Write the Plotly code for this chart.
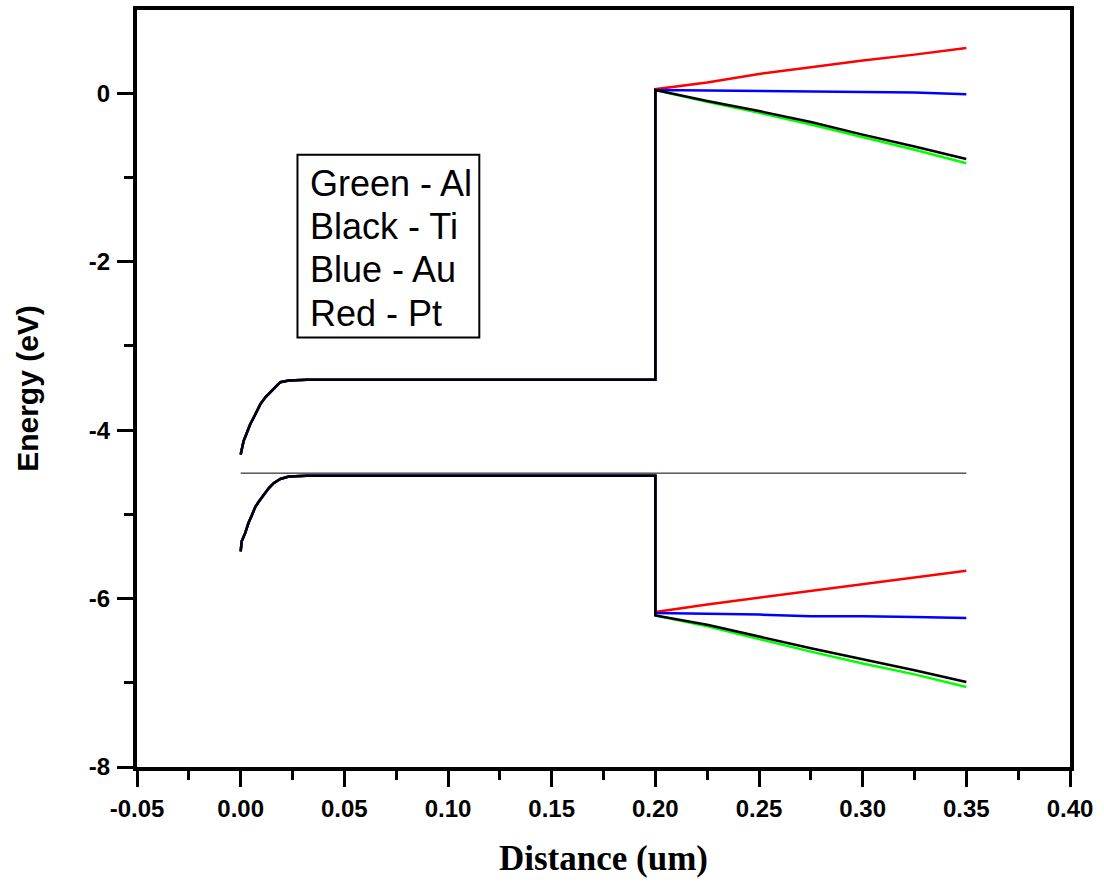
import plotly.graph_objects as go

# ---------------- data ----------------
# Si region (identical for all metals)
si_x = [0.0, 0.0014, 0.003, 0.0046, 0.0063, 0.0079, 0.0095, 0.0119, 0.0143, 0.0168, 0.0191, 0.0232, 0.032, 0.20]
si_cb = [-4.29, -4.13, -4.03, -3.93, -3.85, -3.77, -3.69, -3.61, -3.55, -3.48, -3.43, -3.41, -3.40, -3.40]
si_vb_x = [0.0, 0.0005, 0.0022, 0.0038, 0.0054, 0.0071, 0.0087, 0.0111, 0.0135, 0.0159, 0.0191, 0.0232, 0.032, 0.20]
si_vb = [-5.44, -5.32, -5.22, -5.10, -5.01, -4.91, -4.85, -4.77, -4.69, -4.63, -4.58, -4.55, -4.54, -4.54]

# second layer region (x from 0.20 to 0.35)
layer_x = [0.20, 0.225, 0.25, 0.275, 0.30, 0.325, 0.35]
cb_al = [0.04, -0.10, -0.23, -0.37, -0.52, -0.67, -0.83]
cb_ti = [0.04, -0.09, -0.21, -0.34, -0.49, -0.63, -0.78]
cb_au = [0.04, 0.035, 0.03, 0.025, 0.02, 0.01, -0.01]
cb_pt = [0.05, 0.13, 0.23, 0.31, 0.39, 0.46, 0.54]

vb_al = [-6.20, -6.33, -6.48, -6.63, -6.77, -6.90, -7.05]
vb_ti = [-6.20, -6.31, -6.45, -6.59, -6.72, -6.85, -6.99]
vb_au = [-6.17, -6.18, -6.19, -6.21, -6.21, -6.22, -6.23]
vb_pt = [-6.16, -6.07, -5.99, -5.91, -5.83, -5.75, -5.67]

# Fermi level line
ef_x = [0.0, 0.35]
ef_y = [-4.51, -4.51]

metals = ["Al", "Pt", "Au", "Ti"]
colors = {"Al": "#00FF00", "Pt": "#FF0000", "Au": "#0000FF", "Ti": "#000000"}
cb = {"Al": cb_al, "Ti": cb_ti, "Au": cb_au, "Pt": cb_pt}
vb = {"Al": vb_al, "Ti": vb_ti, "Au": vb_au, "Pt": vb_pt}

x_tickvals = [-0.05, 0.0, 0.05, 0.10, 0.15, 0.20, 0.25, 0.30, 0.35, 0.40]
x_ticktext = ["-0.05", "0.00", "0.05", "0.10", "0.15", "0.20", "0.25", "0.30", "0.35", "0.40"]
y_tickvals = [-8, -6, -4, -2, 0]
y_ticktext = ["-8", "-6", "-4", "-2", "0"]

legend_lines = ["Green - Al", "Black - Ti", "Blue - Au", "Red - Pt"]

# ---------------- figure ----------------
fig = go.Figure()

fig.add_trace(go.Scatter(x=ef_x, y=ef_y, mode="lines",
                         line=dict(color="black", width=1), showlegend=False))

for m in metals:
    fig.add_trace(go.Scatter(x=si_x + layer_x, y=si_cb + cb[m], mode="lines",
                             line=dict(color=colors[m], width=2.5), showlegend=False, name=m + " CB"))
    fig.add_trace(go.Scatter(x=si_vb_x + layer_x, y=si_vb + vb[m], mode="lines",
                             line=dict(color=colors[m], width=2.5), showlegend=False, name=m + " VB"))

axis_font = dict(family="Liberation Sans, Arial, sans-serif", size=24, color="black", weight="bold")

fig.update_xaxes(
    range=[-0.05, 0.40], tickmode="array", tickvals=x_tickvals, ticktext=x_ticktext,
    showline=True, linewidth=4, linecolor="black", mirror=True,
    ticks="outside", ticklen=16, tickwidth=3, tickcolor="black",
    ticklabelstandoff=1, tickfont=axis_font,
    minor=dict(tickmode="linear", tick0=-0.05, dtick=0.025, ticks="outside",
               ticklen=9, tickwidth=3, tickcolor="black", showgrid=False),
    showgrid=False, zeroline=False,
    title=dict(text="<b>Distance (um)</b>", standoff=26,
               font=dict(family="Liberation Serif, Times New Roman, serif", size=35, color="black")),
)
fig.update_yaxes(
    range=[-8, 0.99], tickmode="array", tickvals=y_tickvals, ticktext=y_ticktext,
    showline=True, linewidth=4, linecolor="black", mirror=True,
    ticks="outside", ticklen=16, tickwidth=3, tickcolor="black",
    ticklabelstandoff=2, tickfont=axis_font,
    minor=dict(tickmode="linear", tick0=-8, dtick=1, ticks="outside",
               ticklen=9, tickwidth=3, tickcolor="black", showgrid=False),
    showgrid=False, zeroline=False,
    title=dict(text="<b>Energy (eV)</b>", standoff=42,
               font=dict(family="Liberation Sans, Arial, sans-serif", size=30, color="black")),
)

# legend-like text box
fig.add_shape(type="rect", xref="x", yref="y", x0=0.0274, x1=0.1151, y0=-0.729, y1=-2.898,
              line=dict(color="black", width=2), fillcolor="white", layer="above")
line_y = [-1.073, -1.582, -2.092, -2.613]
for txt, yy in zip(legend_lines, line_y):
    fig.add_annotation(x=0.0327, y=yy, xref="x", yref="y", xanchor="left", yanchor="middle",
                       text=txt, showarrow=False, align="left",
                       font=dict(family="Liberation Sans, Arial, sans-serif", size=36, color="black"))

fig.update_layout(
    width=1104, height=884,
    margin=dict(l=137, r=34, t=6, b=117),
    plot_bgcolor="white", paper_bgcolor="white",
    showlegend=False,
)

fig.write_html("out.html")
